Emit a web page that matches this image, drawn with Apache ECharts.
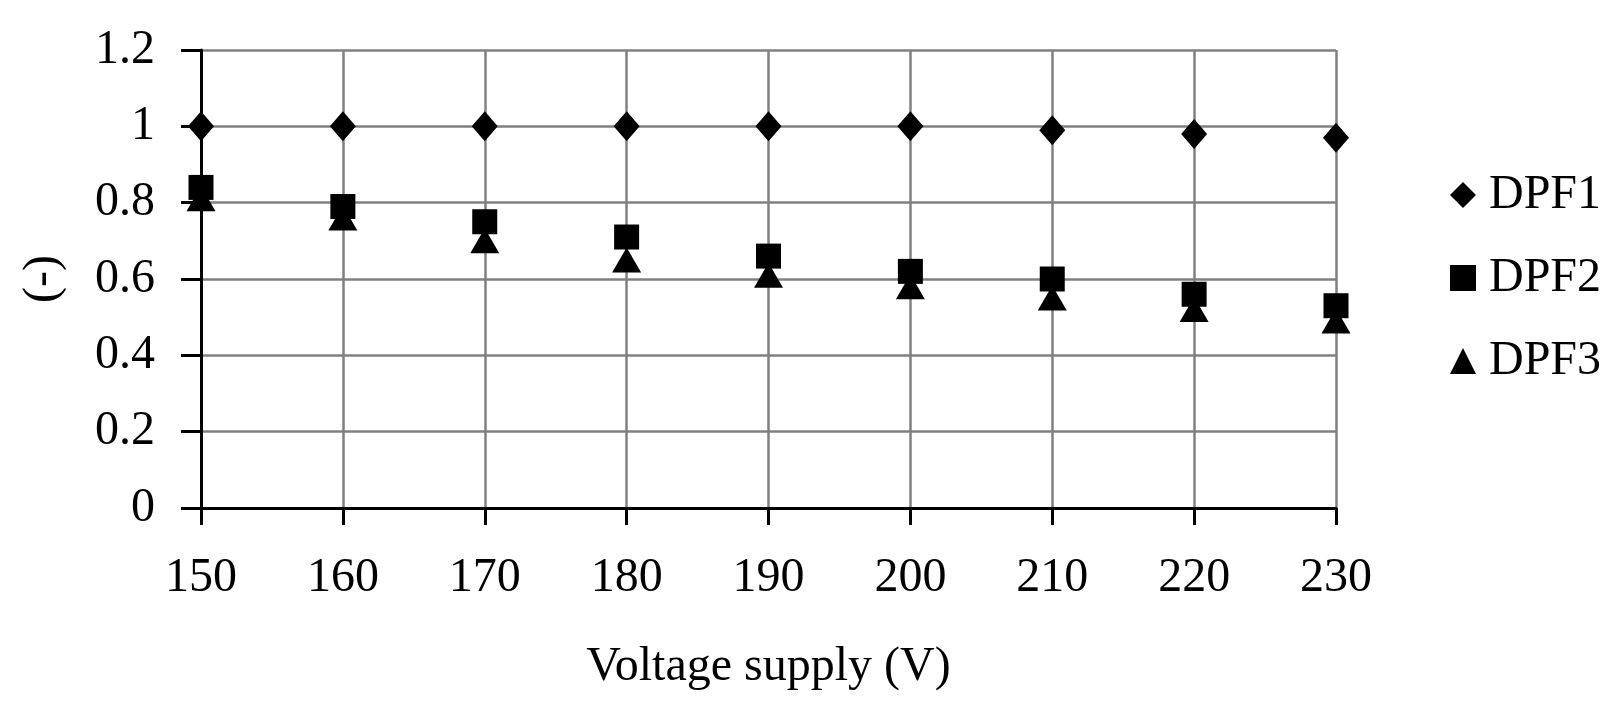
<!DOCTYPE html>
<html>
<head>
<meta charset="utf-8">
<script src="https://cdn.jsdelivr.net/npm/echarts@6/dist/echarts.min.js"></script>
<style>
html,body{margin:0;padding:0;background:#fff;}
#c{width:1617px;height:719px;}
</style>
</head>
<body>
<div id="c"></div>
<script>
const voltages = [150, 160, 170, 180, 190, 200, 210, 220, 230];
const dpf1 = [1.0, 1.0, 1.0, 1.0, 1.0, 1.0, 0.99, 0.98, 0.97];
const dpf2 = [0.84, 0.79, 0.75, 0.71, 0.66, 0.62, 0.60, 0.56, 0.53];
const dpf3 = [0.81, 0.76, 0.70, 0.65, 0.61, 0.58, 0.55, 0.52, 0.49];
const seriesNames = ['DPF1', 'DPF2', 'DPF3'];
const xAxisTitle = 'Voltage supply (V)';
const yAxisTitle = '(-)';

const FONT = 'Liberation Serif';
const toPairs = arr => voltages.map((v, i) => [v, arr[i]]);
const markStyle = { color: '#000', opacity: 1 };

const chart = echarts.init(document.getElementById('c'));
chart.setOption({
  animation: false,
  backgroundColor: '#ffffff',
  grid: { left: 201, right: 281, top: 50, bottom: 211, containLabel: false },
  legend: {
    orient: 'vertical',
    left: 1450,
    top: 171,
    padding: 0,
    itemGap: 35,
    itemWidth: 26,
    itemHeight: 26,
    data: seriesNames,
    itemStyle: { opacity: 1 },
    textStyle: { fontFamily: FONT, fontSize: 48, color: '#000', padding: [0, 0, 0, 8] }
  },
  xAxis: {
    type: 'value',
    min: 150, max: 230, interval: 10,
    name: xAxisTitle,
    nameLocation: 'middle',
    nameGap: 135,
    nameTextStyle: { fontFamily: FONT, fontSize: 48, color: '#000' },
    axisLine: { show: true, onZero: false, lineStyle: { color: '#000', width: 3 } },
    axisTick: { show: true, length: 17, lineStyle: { color: '#000', width: 3 } },
    axisLabel: { margin: 46, fontFamily: FONT, fontSize: 48, color: '#000' },
    splitLine: { show: true, lineStyle: { color: '#808080', width: 2.5 } }
  },
  yAxis: {
    type: 'value',
    min: 0, max: 1.2, interval: 0.2,
    name: yAxisTitle,
    nameLocation: 'middle',
    nameRotate: 90,
    nameGap: 134,
    nameTextStyle: { fontFamily: FONT, fontSize: 48, color: '#000' },
    axisLine: { show: true, onZero: false, lineStyle: { color: '#000', width: 3 } },
    axisTick: { show: true, length: 20, lineStyle: { color: '#000', width: 3 } },
    axisLabel: { margin: 46, fontFamily: FONT, fontSize: 48, color: '#000' },
    splitLine: { show: true, lineStyle: { color: '#808080', width: 2.5 } }
  },
  series: [
    { name: seriesNames[0], type: 'scatter', symbol: 'diamond', symbolSize: [26, 30],
      itemStyle: markStyle, emphasis: { disabled: true }, data: toPairs(dpf1) },
    { name: seriesNames[1], type: 'scatter', symbol: 'rect', symbolSize: 25,
      itemStyle: markStyle, emphasis: { disabled: true }, data: toPairs(dpf2) },
    { name: seriesNames[2], type: 'scatter', symbol: 'triangle', symbolSize: [29, 25],
      itemStyle: markStyle, emphasis: { disabled: true }, data: toPairs(dpf3) }
  ]
});
</script>
</body>
</html>
